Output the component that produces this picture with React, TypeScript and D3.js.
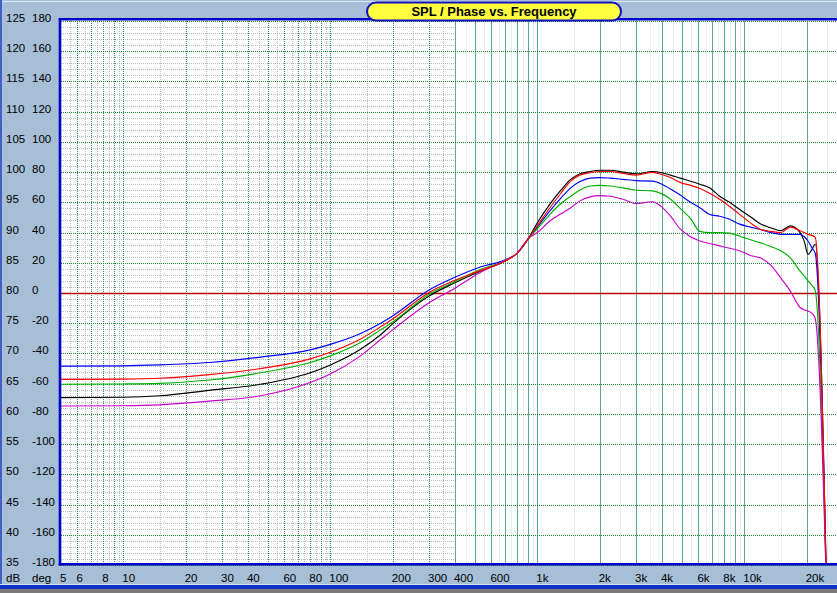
import * as d3 from "d3";

// frequency points (Hz) shared by all traces
const freqs = [5, 10, 15, 26, 46, 80, 100, 140, 175, 200, 300, 400, 530, 690, 800, 905, 1000, 1150, 1300, 1450, 1600, 1800, 2000, 2250, 2600, 3000, 3600, 4000, 4400, 4900, 5500, 6100, 6800, 7600, 8500, 9500, 10700, 12000, 13400, 15000, 16700, 18600, 19500, 20300, 21300, 22000, 25000];

// SPL traces (dB)
const blueSpl = [67.9, 67.95, 68.1, 68.5, 69.4, 70.6, 71.5, 73.3, 75.0, 76.2, 80.5, 82.6, 84.3, 85.4, 86.6, 89.0, 90.9, 93.6, 95.7, 97.4, 98.4, 99.0, 99.1, 99.0, 98.8, 98.6, 98.5, 98.0, 97.2, 96.2, 95.0, 94.1, 93.0, 92.7, 92.2, 91.4, 90.9, 90.5, 90.0, 89.7, 89.7, 89.7, 89.3, 88.6, 87.4, 86.6, 30];
const redSpl = [65.7, 65.75, 65.9, 66.5, 67.5, 69.1, 70.2, 72.4, 74.4, 75.7, 80.1, 82.1, 83.7, 85.2, 86.6, 89.0, 91.1, 94.1, 96.5, 98.5, 99.5, 99.9, 100.1, 100.1, 99.8, 99.5, 99.95, 99.6, 99.1, 98.3, 97.8, 97.3, 96.5, 95.5, 94.3, 93.0, 91.6, 90.5, 90.2, 90.0, 90.9, 90.3, 90.0, 89.7, 89.5, 89.2, 30];
const blackSpl = [62.7, 62.75, 63.0, 63.9, 64.9, 66.8, 68.1, 70.7, 73.1, 74.9, 79.5, 81.7, 83.6, 85.2, 86.6, 89.0, 91.6, 94.7, 97.0, 98.8, 99.7, 100.1, 100.3, 100.3, 100.0, 99.7, 100.1, 99.9, 99.5, 99.0, 98.5, 98.0, 97.4, 96.0, 95.0, 93.8, 92.6, 91.4, 90.8, 90.3, 91.1, 90.0, 88.5, 86.4, 87.3, 88.1, 30];
const greenSpl = [64.9, 64.95, 65.05, 65.6, 66.8, 68.5, 69.6, 71.8, 73.9, 75.2, 79.8, 81.9, 83.9, 85.3, 86.6, 89.0, 90.6, 93.0, 94.8, 96.0, 97.0, 97.7, 97.8, 97.7, 97.4, 97.0, 96.9, 96.4, 95.5, 94.0, 92.3, 90.2, 90.0, 90.0, 89.9, 89.4, 88.8, 88.3, 87.7, 87.0, 85.8, 83.6, 82.8, 82.0, 81.2, 80.4, 30];
const magentaSpl = [61.3, 61.35, 61.5, 62.1, 63.0, 65.2, 66.6, 69.6, 72.3, 73.9, 78.4, 80.8, 83.4, 85.3, 86.6, 89.0, 90.0, 91.9, 93.1, 94.1, 95.2, 95.9, 96.1, 96.0, 95.5, 94.8, 95.1, 94.2, 92.7, 90.6, 89.3, 88.6, 88.2, 87.8, 87.4, 87.0, 86.2, 85.8, 84.6, 82.5, 80.3, 77.6, 77.2, 77.0, 76.6, 75.8, 30];

// axis ticks
const dbTicks = d3.range(125, 34, -5);
const degTicks = d3.range(180, -181, -20);
const freqTicks = [5, 6, 8, 10, 20, 30, 40, 60, 80, 100, 200, 300, 400, 600, 1000, 2000, 3000, 4000, 6000, 8000, 10000, 20000];
const freqLabels = ["5", "6", "8", "10", "20", "30", "40", "60", "80", "100", "200", "300", "400", "600", "1k", "2k", "3k", "4k", "6k", "8k", "10k", "20k"];

const traces = [
    { name: "black", color: "#000000", values: blackSpl },
    { name: "blue", color: "#0000ff", values: blueSpl },
    { name: "green", color: "#00b000", values: greenSpl },
    { name: "magenta", color: "#cc00cc", values: magentaSpl },
    { name: "red", color: "#ff0000", values: redSpl },
];

const W = 837;
const H = 593;
const FONT = "'Liberation Sans', Arial, sans-serif";

export default function App() {
    const x = d3.scaleLog().domain([5, 30000]).range([61, 61 + 207 * Math.log10(6000)]);
    const y = d3.scaleLinear().domain([35, 125]).range([565, 21]);
    const splitF = 400; // dotted grid below, solid lines above
    const xSplit = x(splitF);
    const px = (v: number) => Math.round(v) + 0.5;

    const line = d3
        .line<number>()
        .x((_, i) => x(freqs[i]))
        .y((v) => y(v))
        .curve(d3.curveMonotoneX);

    // vertical grid positions
    const majors: number[] = [];
    const halves: number[] = [];
    [1, 10, 100, 1000, 10000].forEach((dec) => {
        for (let m = 1; m <= 9; m++) {
            const f = m * dec;
            if (f > 5 && f <= 30000) majors.push(f);
            const h = (m + 0.5) * dec;
            if (h > 5 && h <= 30000) halves.push(h);
        }
    });
    const minorDb = d3.range(36, 125).filter((d) => d % 5 !== 0);

    return (
        <div style={{ position: "fixed", left: 0, top: 0 }}>
            <svg width={W} height={H} style={{ display: "block", fontFamily: FONT }}>
                <rect x={0} y={0} width={W} height={H} fill="#a6bed6" />
                <line x1={0} x2={W} y1={1.5} y2={1.5} stroke="#d8e8f4" strokeWidth={1} />
                <line x1={1} x2={1} y1={0} y2={585} stroke="#4060c8" strokeWidth={2} />

                {/* plot area */}
                <rect x={60} y={19} width={W - 60} height={546} fill="#ffffff" />

                {/* fine dotted grid, low frequencies */}
                <g stroke="#b8b8b8" strokeDasharray="1 1" strokeWidth={1}>
                    {minorDb.map((d) => (
                        <line key={"hm" + d} x1={61} x2={xSplit} y1={px(y(d))} y2={px(y(d))} />
                    ))}
                    {halves
                        .filter((f) => f < splitF)
                        .map((f) => (
                            <line key={"vh" + f} x1={px(x(f))} x2={px(x(f))} y1={21} y2={564} />
                        ))}
                </g>
                <g stroke="#e2efec" strokeWidth={1}>
                    {halves
                        .filter((f) => f >= splitF)
                        .map((f) => (
                            <line key={"vh2" + f} x1={px(x(f))} x2={px(x(f))} y1={21} y2={564} />
                        ))}
                </g>
                <g strokeWidth={1}>
                    {majors.map((f) =>
                        f < splitF ? (
                            <line key={"v" + f} x1={px(x(f))} x2={px(x(f))} y1={21} y2={564} stroke="#2f8a66" strokeDasharray="1 1" />
                        ) : (
                            <line key={"v" + f} x1={px(x(f))} x2={px(x(f))} y1={21} y2={564} stroke="#5ea996" />
                        )
                    )}
                </g>
                <g stroke="#1a8a3a" strokeDasharray="1 1" strokeWidth={1}>
                    {dbTicks.map((d) => (
                        <line key={"h" + d} x1={61} x2={W} y1={px(y(d))} y2={px(y(d))} />
                    ))}
                </g>
                <line x1={61} x2={W} y1={px(y(80))} y2={px(y(80))} stroke="#b40000" strokeWidth={1.3} />

                {/* traces */}
                <defs>
                    <clipPath id="plotClip">
                        <rect x={61} y={20} width={W - 61} height={544} />
                    </clipPath>
                </defs>
                <g clipPath="url(#plotClip)" fill="none" strokeWidth={1.15}>
                    {traces.map((t) => (
                        <path key={t.name} d={line(t.values) ?? ""} stroke={t.color} />
                    ))}
                </g>

                {/* plot border */}
                <g stroke="#0000c8" strokeWidth={2.6}>
                    <line x1={60} x2={60} y1={18} y2={565.5} />
                    <line x1={58.7} x2={W} y1={19.3} y2={19.3} />
                    <line x1={58.7} x2={W} y1={564.2} y2={564.2} />
                </g>

                {/* axis labels */}
                <g fontSize={11.5} fill="#000">
                    {dbTicks.map((d, i) => (
                        <g key={"l" + d}>
                            <text x={6} y={y(d) + 1}>{d}</text>
                            <text x={32} y={y(d) + 1}>{degTicks[i]}</text>
                        </g>
                    ))}
                    <text x={6} y={582}>dB</text>
                    <text x={32} y={582}>deg</text>
                    {freqTicks.map((f, i) => (
                        <text key={"f" + f} x={x(f) - 1} y={582}>
                            {freqLabels[i]}
                        </text>
                    ))}
                </g>

                {/* bottom strip */}
                <rect x={0} y={584} width={W} height={1} fill="#cfe6f2" />
                <rect x={0} y={585} width={W} height={4} fill="#1030c8" />
                <rect x={0} y={589} width={W} height={4} fill="#7a7a7a" />

                {/* title */}
                <rect x={367} y={2.5} width={254} height={18} rx={9} fill="#ffff40" stroke="#1010c0" strokeWidth={2} />
                <text x={494} y={16} textAnchor="middle" fontSize={13} fontWeight="bold" fill="#000">
                    SPL / Phase vs. Frequency
                </text>
            </svg>
        </div>
    );
}
